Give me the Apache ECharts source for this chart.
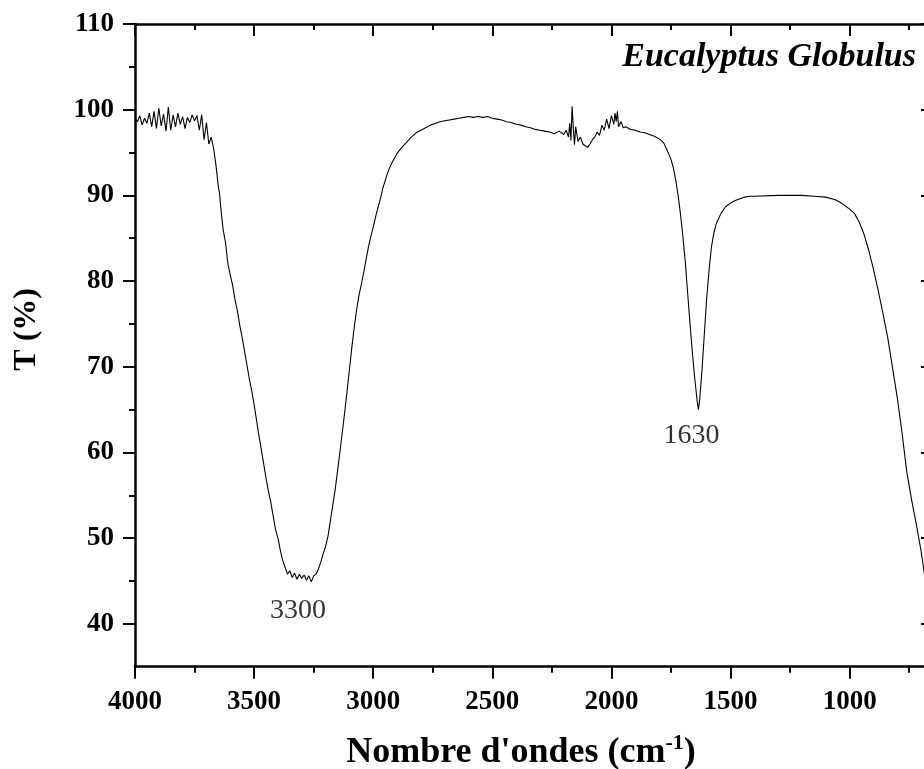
<!DOCTYPE html>
<html>
<head>
<meta charset="utf-8">
<script src="https://cdn.jsdelivr.net/npm/echarts@6/dist/echarts.min.js"></script>
<style>
html,body{margin:0;padding:0;background:#fff;}
#chart{width:924px;height:769px;}
</style>
</head>
<body>
<div id="chart"></div>
<script>
// ---- data ----
const wavenumber = [
4000,3990,3980,3970,3960,3950,3940,3930,3920,3910,3900,3890,3880,3870,3860,3850,3840,3830,3820,3810,
3800,3790,3780,3770,3760,3750,3740,3730,3720,3710,3700,3690,3680,3670,3660,3650,3645,3640,3630,3620,
3610,3600,3590,3580,3570,3560,3550,3540,3530,3520,3510,3500,3490,3480,3470,3460,3450,3440,3430,3420,
3410,3400,3390,3380,3370,3360,3350,3340,3330,3320,3310,3300,3290,3280,3270,3260,3250,3240,3230,3220,
3210,3200,3190,3180,3170,3160,3150,3140,3130,3120,3110,3100,3090,3080,3070,3060,3050,3040,3030,3020,
3010,3000,2990,2980,2970,2960,2950,2940,2930,2920,2900,2880,2860,2840,2820,2800,2780,2760,2740,2720,
2700,2680,2660,2640,2620,2600,2580,2560,2540,2520,2500,2480,2460,2440,2420,2400,2380,2360,2340,2320,
2300,2280,2260,2240,2220,2200,2190,2180,2175,2170,2165,2160,2155,2150,2140,2130,2120,2110,2100,2090,
2080,2070,2060,2050,2040,2030,2020,2010,2000,1990,1985,1980,1975,1970,1960,1950,1940,1920,1900,1880,
1860,1840,1820,1800,1790,1780,1770,1760,1750,1740,1730,1720,1710,1700,1690,1680,1670,1660,1650,1640,
1635,1630,1620,1610,1600,1590,1580,1570,1560,1550,1540,1530,1520,1500,1480,1460,1440,1420,1400,1300,
1200,1150,1100,1060,1040,1020,1000,980,960,940,920,900,880,860,840,820,800,780,760,740,
720,700,680
];
const transmittance = [
99.0,98.6,99.3,98.2,99.0,98.4,99.6,98.0,99.8,97.8,100.2,98.1,99.5,97.5,100.3,97.6,99.4,98.0,99.6,98.3,
99.2,97.8,99.1,98.5,99.4,98.7,99.3,97.6,99.4,96.5,98.5,96.0,96.8,95.5,93.5,91.0,90.2,88.6,86.0,84.5,
82.0,80.7,79.5,77.8,76.5,74.8,73.4,71.8,70.2,68.6,67.2,65.6,63.8,62.0,60.4,58.7,57.0,55.5,54.2,52.6,
51.0,50.0,48.6,47.4,46.6,45.8,46.2,45.4,45.9,45.2,45.8,45.3,45.7,45.1,45.6,44.9,45.6,45.8,46.4,47.2,
48.2,49.0,50.2,52.0,53.8,55.6,57.8,60.0,62.3,64.6,67.1,69.6,72.2,74.5,76.6,78.3,79.6,81.0,82.5,84.0,
85.2,86.3,87.5,88.6,89.6,90.8,91.7,92.6,93.3,93.9,94.9,95.6,96.2,96.8,97.3,97.6,97.9,98.2,98.4,98.6,
98.7,98.8,98.9,99.0,99.1,99.2,99.1,99.2,99.1,99.2,99.0,98.9,98.8,98.6,98.5,98.3,98.2,98.0,97.9,97.7,
97.6,97.5,97.4,97.2,97.5,97.1,97.6,96.8,98.4,96.4,100.4,97.8,95.9,98.0,96.3,96.8,96.0,95.8,95.6,96.0,
96.5,96.8,97.4,97.0,98.2,97.6,98.9,97.8,99.3,98.3,99.6,98.6,99.8,98.0,98.6,97.9,98.0,97.7,97.6,97.4,
97.3,97.1,96.9,96.6,96.4,96.1,95.5,94.9,94.2,93.2,91.8,90.0,87.8,85.2,82.3,78.6,75.0,71.6,68.6,66.0,
65.0,66.0,69.5,73.8,78.0,81.3,84.0,85.6,86.7,87.3,87.9,88.3,88.7,89.1,89.4,89.6,89.8,89.9,89.9,90.0,
90.0,89.9,89.8,89.5,89.2,88.8,88.4,87.9,86.9,85.5,83.6,81.4,78.9,76.2,73.4,69.9,66.4,62.3,57.7,54.5,
51.6,48.5,44.6
];
const xMajorTicks = [4000,3500,3000,2500,2000,1500,1000];
const xMinorTicks = [3750,3250,2750,2250,1750,1250,750];
const yMajorTicks = [40,50,60,70,80,90,100,110];
const yMinorTicks = [45,55,65,75,85,95,105];
const peakLabels = ['3300','1630'];
const peakLabelX = [3316,1664];
const peakLabelY = [41.5,62.0];
const sampleName = 'Eucalyptus Globulus';

// ---- chart ----
const FONT = '"Liberation Serif", "Times New Roman", serif';
const chart = echarts.init(document.getElementById('chart'), null, {renderer:'canvas'});

const lineData = wavenumber.map((w,i)=>[w, transmittance[i]]);
const labelData = peakLabels.map((t,i)=>({value:[peakLabelX[i], peakLabelY[i]], name:t}));

function xAx(pos, ticks, len, inside, main){
  return {
    type:'value', position:pos, inverse:true, min:650, max:4000,
    axisLine:{show:main, onZero:false, lineStyle:{color:'#000', width:2.5}},
    axisTick:{show:true, inside:inside, length:len, customValues:ticks, lineStyle:{color:'#000', width:2}},
    axisLabel:{show:false},
    splitLine:{show:false}
  };
}
function yAx(pos, ticks, len, inside, main){
  return {
    type:'value', position:pos, min:35, max:110,
    axisLine:{show:main, onZero:false, lineStyle:{color:'#000', width:2.5}},
    axisTick:{show:true, inside:inside, length:len, customValues:ticks, lineStyle:{color:'#000', width:2}},
    axisLabel:{show:false},
    splitLine:{show:false}
  };
}

const xMain = xAx('bottom', xMajorTicks, 12, false, true);
xMain.axisLabel = {show:true, customValues:xMajorTicks, margin:22, color:'#000',
  fontFamily:FONT, fontWeight:'bold', fontSize:27, formatter:v=>String(v)};
xMain.name = "{b|Nombre d'ondes (cm}{s|-1}{b|)}";
xMain.nameLocation = 'middle';
xMain.nameGap = 66;
xMain.nameTextStyle = {padding:[0,26,0,0], rich:{
  b:{fontFamily:FONT, fontWeight:'bold', fontSize:36, color:'#000'},
  s:{fontFamily:FONT, fontWeight:'bold', fontSize:22, color:'#000', padding:[0,0,18,0]}
}};

const yMain = yAx('left', yMajorTicks, 12, false, true);
yMain.axisLabel = {show:true, customValues:yMajorTicks, margin:21, color:'#000',
  fontFamily:FONT, fontWeight:'bold', fontSize:27, formatter:v=>String(v)};
yMain.name = 'T (%)';
yMain.nameLocation = 'middle';
yMain.nameGap = 92;
yMain.nameTextStyle = {fontFamily:FONT, fontWeight:'bold', fontSize:32, color:'#000', padding:[0,0,0,32]};

chart.setOption({
  animation:false,
  backgroundColor:'#fff',
  title:{text:sampleName, right:8, top:40, padding:0,
    textStyle:{fontFamily:FONT, fontWeight:'bold', fontStyle:'italic', fontSize:34, color:'#000'}},
  grid:{left:135, right:-9, top:24, bottom:102.3, containLabel:false, outerBoundsMode:'none'},
  xAxis:[
    xMain,
    xAx('bottom', xMinorTicks, 6, false, false),
    xAx('top', xMajorTicks, 12, true, true),
    xAx('top', xMinorTicks, 6, true, false)
  ],
  yAxis:[
    yMain,
    yAx('left', yMinorTicks, 6, false, false),
    yAx('right', yMajorTicks, 12, true, true),
    yAx('right', yMinorTicks, 6, true, false)
  ],
  series:[
    {type:'line', xAxisIndex:0, yAxisIndex:0, data:lineData, showSymbol:false, symbol:'none',
     lineStyle:{color:'#000', width:1.1}, silent:true},
    {type:'scatter', xAxisIndex:0, yAxisIndex:0, data:labelData, symbolSize:0, silent:true,
     itemStyle:{color:'#000'},
     label:{show:true, position:'inside', formatter:p=>p.name, color:'#000', textBorderWidth:0,
       fontFamily:FONT, fontSize:28}}
  ]
});
</script>
</body>
</html>
